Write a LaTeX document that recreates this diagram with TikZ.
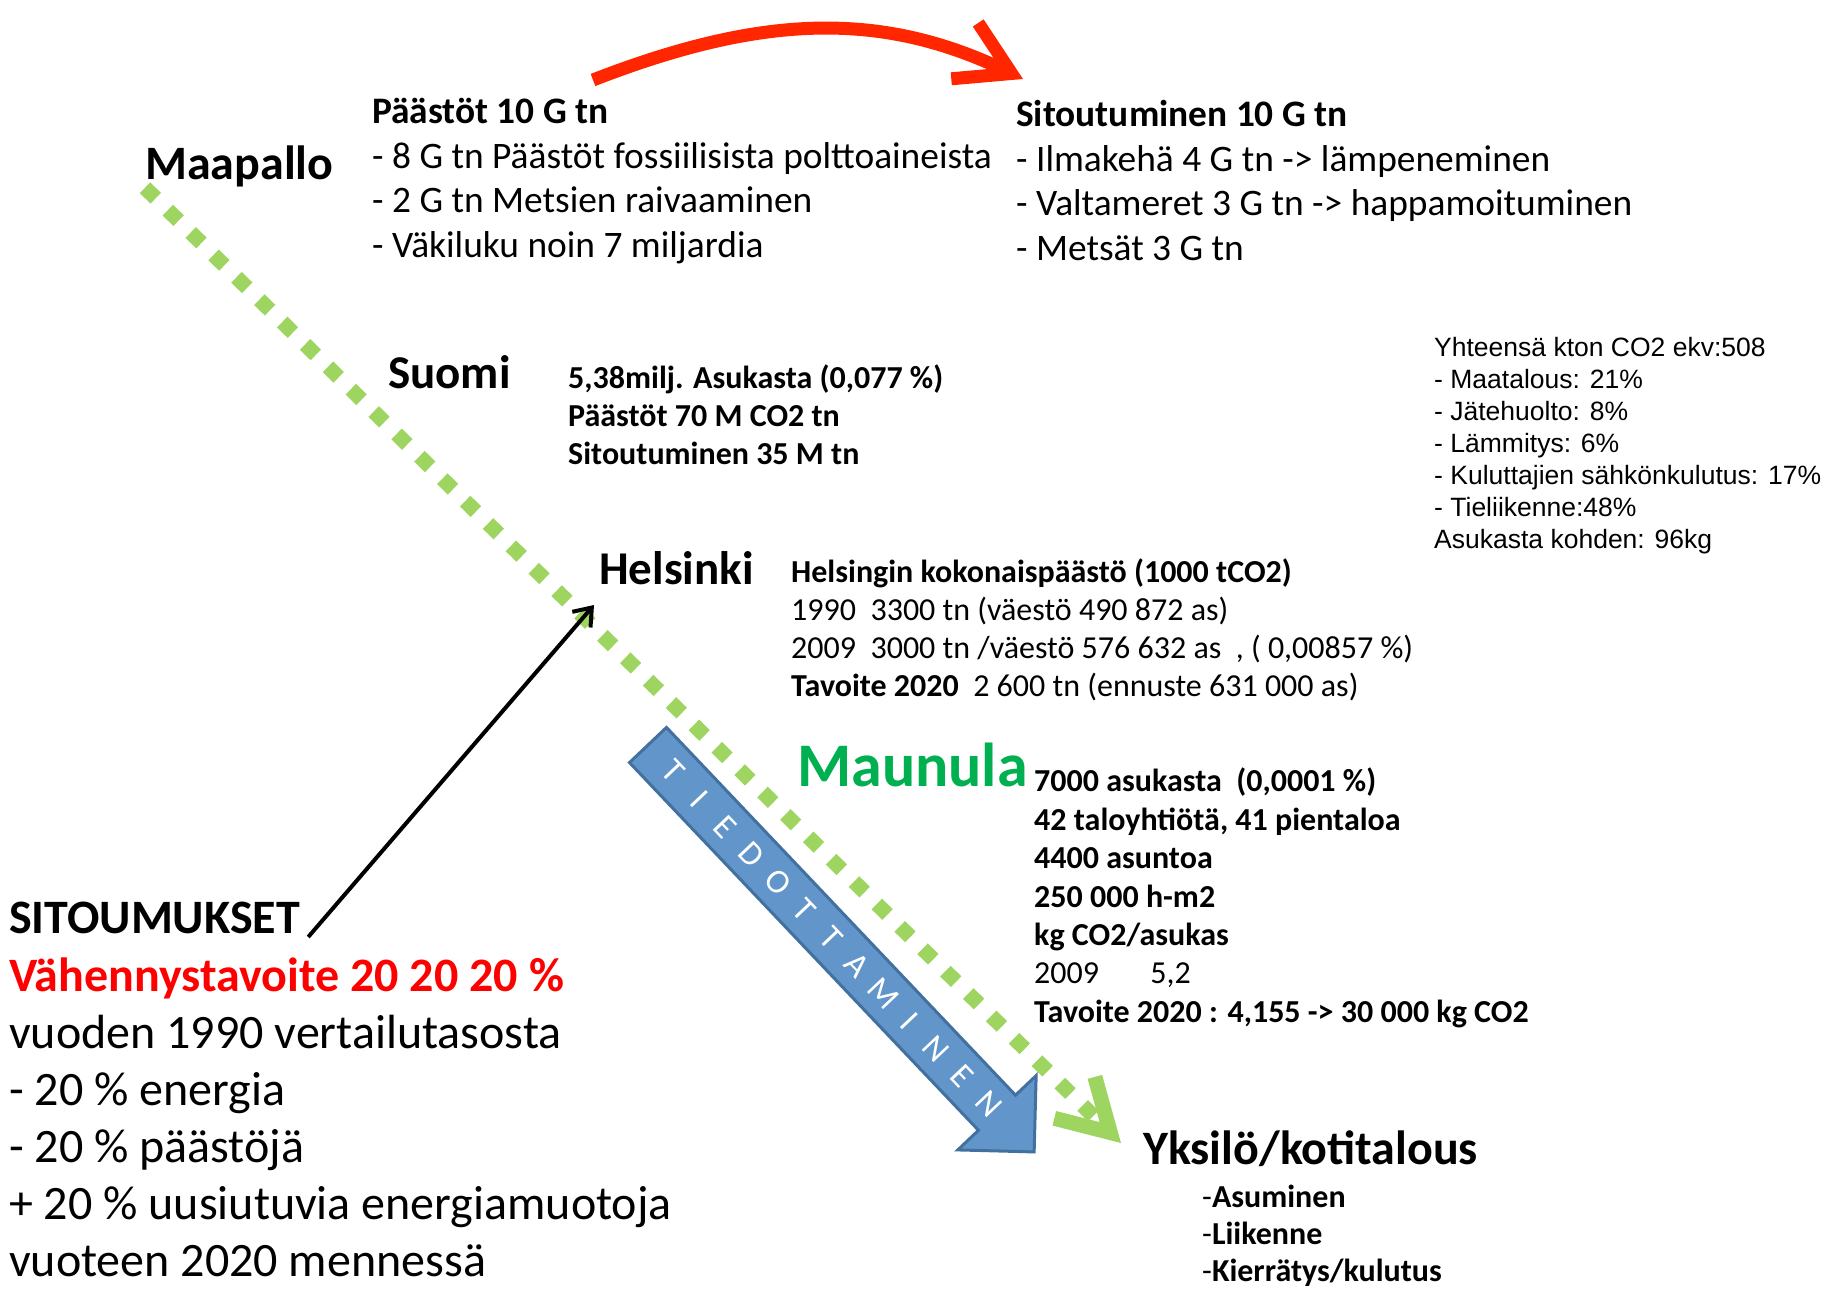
\documentclass[tikz,border=0pt]{standalone}
\usepackage{fontspec}
\setmainfont{Carlito}
\newfontfamily\arialfont{Liberation Sans}
\usetikzlibrary{arrows.meta}
\definecolor{dotgreen}{RGB}{158,213,96}
\definecolor{maugreen}{RGB}{0,176,80}
\definecolor{arcred}{RGB}{255,38,0}
\definecolor{infoblue}{RGB}{98,149,202}
\definecolor{infoedge}{RGB}{66,113,160}

\begin{document}
\begin{tikzpicture}[x=1pt,y=-1pt,
  place/.style={inner sep=0pt,anchor=base west,font=\bfseries\fontsize{47}{56}\selectfont},
  info/.style={inner sep=0pt,anchor=north west,align=left,font=\fontsize{32}{38}\selectfont},
  dotline/.style={draw=dotgreen,line width=15pt,dash pattern=on 15pt off 17pt,-{Straight Barb[length=50pt,width=58pt]}},
  redarc/.style={draw=arcred,line width=13pt,-{Straight Barb[length=52pt,width=62pt]}},
  commit/.style={draw,line width=4pt,-{Straight Barb[length=16pt,width=24pt]}}]
\useasboundingbox (0,0) rectangle (1825,1289);

\node[place,font=\bfseries\fontsize{48}{56}\selectfont] (maa) at (145,180) {Maapallo};
\node[place] (suo) at (388,388) {Suomi};
\node[place] (hel) at (599,584) {Helsinki};
\node[place,text=maugreen,font=\bfseries\fontsize{62}{70}\selectfont] (mau) at (797,786) {Maunula};
\node[place,font=\bfseries\fontsize{48}{56}\selectfont] (yks) at (1143,1164) {Yksilö/kotitalous};
\node[place,font=\bfseries\fontsize{48}{57}\selectfont] (sit) at (9,933) {SITOUMUKSET};

\node[info,font=\fontsize{37.4}{44.6}\selectfont] (paa) at (372,98) {\textbf{Päästöt 10 G tn}\\- 8 G tn Päästöt fossiilisista polttoaineista\\- 2 G tn Metsien raivaaminen\\- Väkiluku noin 7 miljardia};
\node[info,font=\fontsize{37.4}{44.6}\selectfont] (sid) at (1016,100) {\textbf{Sitoutuminen 10 G tn}\\- Ilmakehä 4 G tn -> lämpeneminen\\- Valtameret 3 G tn -> happamoituminen\\- Metsät 3 G tn};
\node[info,font=\bfseries\fontsize{32}{38}\selectfont] (suoinfo) at (568,365) {5,38milj. Asukasta (0,077 \%)\\Päästöt 70 M CO2 tn\\Sitoutuminen 35 M tn};
\node[info,font=\arialfont\fontsize{26.5}{32}\selectfont] (kton) at (1434,337) {Yhteensä kton CO2 ekv:508\\- Maatalous: 21\%\\- Jätehuolto: 8\%\\- Lämmitys: 6\%\\- Kuluttajien sähkönkulutus: 17\%\\- Tieliikenne:48\%\\Asukasta kohden: 96kg};
\node[info] (helinfo) at (791,559) {\textbf{Helsingin kokonaispäästö (1000 tCO2)}\\1990~~3300 tn (väestö 490 872 as)\\2009~~3000 tn /väestö 576 632 as~~, ( 0,00857 \%)\\\textbf{Tavoite 2020}~~2 600 tn (ennuste 631 000 as)};
\node[info,font=\bfseries\fontsize{32}{38.4}\selectfont] (mauinfo) at (1034,768) {7000 asukasta~~(0,0001 \%)\\42 taloyhtiötä, 41 pientaloa\\4400 asuntoa\\250 000 h-m2\\kg CO2/asukas\\{\mdseries 2009\hspace{1.6em}5,2}\\Tavoite 2020 : 4,155 -> 30 000 kg CO2};
\node[info,font=\fontsize{48}{57}\selectfont] (goal) at (9,958) {\textcolor{red}{\textbf{Vähennystavoite 20 20 20 \%}}\\vuoden 1990 vertailutasosta\\- 20 \% energia\\- 20 \% päästöjä\\+ 20 \% uusiutuvia energiamuotoja\\vuoteen 2020 mennessä};
\node[info,font=\fontsize{32}{36.7}\selectfont] (koti) at (1202,1185) {-\textbf{Asuminen}\\-\textbf{Liikenne}\\-\textbf{Kierrätys/kulutus}};

\begin{scope}[shift={(648,745)},rotate=-46.5]
\draw[fill=infoblue,draw=infoedge,line width=3pt,line join=miter]
  (0,-25.5) -- (507,-25.5) -- (507,-54) -- (561,0) -- (507,54) -- (507,25.5) -- (0,25.5) -- cycle;
\foreach \ch [count=\i] in {T,I,E,D,O,T,T,A,M,I,N,E,N}
  \node[text=white,rotate=-46.5,inner sep=0pt,font=\fontsize{34}{34}\selectfont] (tied\i) at ({36+(\i-1)*38.25},0) {\ch};
\end{scope}

\coordinate (redtail) at (593,80);
\coordinate (redtip) at (1023,79);
\coordinate (grnend) at (1121,1143);
\coordinate (heltip) at (594,605);
\draw[redarc] (redtail) .. controls (760,15) and (880,10) .. (redtip);
\draw[dotline] (maa.south west) -- (grnend);
\draw[commit] ([xshift=8pt,yshift=-4pt]sit.base east) -- (heltip);
\end{tikzpicture}
\end{document}
